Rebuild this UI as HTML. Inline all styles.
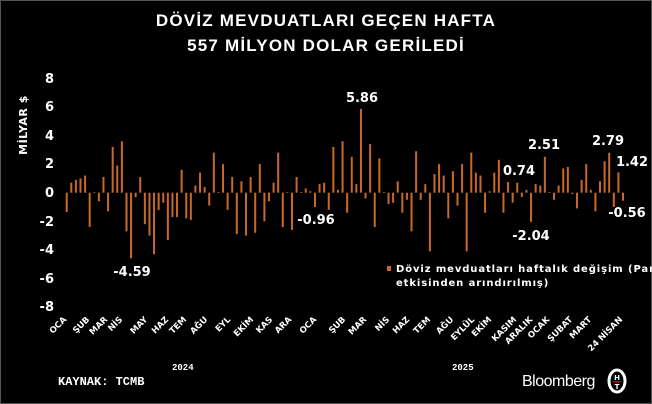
<!DOCTYPE html>
<html><head><meta charset="utf-8"><style>
html,body{margin:0;padding:0;background:#000;}
svg{display:block;font-family:"DejaVu Sans",sans-serif;}
</style></head><body>
<svg width="652" height="404" viewBox="0 0 652 404" xmlns="http://www.w3.org/2000/svg">
<rect width="652" height="404" fill="#000"/>
<rect x="0.5" y="0.5" width="651" height="403" fill="none" stroke="#555" stroke-width="1"/>
<g fill="#fff" font-weight="bold" font-size="17" text-anchor="middle" letter-spacing="1.2" font-family="Liberation Sans,sans-serif">
<text x="326" y="26">DÖVİZ MEVDUATLARI GEÇEN HAFTA</text>
<text x="326" y="51">557 MİLYON DOLAR GERİLEDİ</text>
</g>
<g fill="#fff" font-weight="bold" font-size="13" text-anchor="end">
<text x="54" y="83">8</text><text x="54" y="111">6</text><text x="54" y="140">4</text><text x="54" y="168">2</text><text x="54" y="197">0</text><text x="54" y="226">-2</text><text x="54" y="254">-4</text><text x="54" y="283">-6</text><text x="54" y="311">-8</text>
</g>
<text transform="translate(27,125) rotate(-90)" fill="#fff" font-weight="bold" font-size="11" text-anchor="middle" letter-spacing="0.5">MİLYAR $</text>
<g id="bars" fill="#c8692a"></g>
<g fill="#fff" font-weight="bold" font-size="13" text-anchor="middle">
<text x="132" y="276">-4.59</text>
<text x="362" y="102">5.86</text>
<text x="316" y="224">-0.96</text>
<text x="544" y="149">2.51</text>
<text x="519" y="175">0.74</text>
<text x="531" y="240">-2.04</text>
<text x="608" y="145">2.79</text>
<text x="632" y="166">1.42</text>
<text x="627" y="217">-0.56</text>
</g>
<rect x="387" y="266" width="4" height="5" fill="#c8692a"/>
<g fill="#fff" font-weight="bold" font-size="10" letter-spacing="0.9">
<text x="396" y="272">Döviz mevduatları haftalık değişim (Parite</text>
<text x="396" y="286">etkisinden arındırılmış)</text>
</g>
<g id="xl" fill="#fff" font-weight="bold" font-size="8.5" text-anchor="end"></g>
<g fill="#fff" font-size="9" font-weight="bold" font-family="Liberation Mono,monospace">
<text x="172" y="370">2024</text><text x="452" y="370">2025</text>
</g>
<text x="58" y="385" fill="#fff" font-weight="bold" font-size="12" font-family="Liberation Mono,monospace">KAYNAK: TCMB</text>
<text x="522" y="386" fill="#fff" font-size="16" letter-spacing="-0.5" font-family="Liberation Sans,sans-serif">Bloomberg</text>
<ellipse cx="617" cy="381" rx="8" ry="11" fill="none" stroke="#fff" stroke-width="3"/>
<text x="617" y="380" fill="#fff" font-size="7" font-weight="bold" text-anchor="middle">H</text>
<rect x="613" y="381" width="8" height="1.5" fill="#c00"/>
<text x="617" y="389" fill="#fff" font-size="7" font-weight="bold" text-anchor="middle">T</text>
</svg>
<script>
var v=[-1.35,0.7,0.9,1.0,1.2,-2.4,0.05,-0.6,1.1,-1.3,3.2,1.9,3.6,-2.7,-4.59,-0.3,1.1,-2.2,-3.0,-4.3,-1.2,-0.7,-3.3,-1.7,-1.7,1.6,-1.8,-1.9,0.5,1.4,0.4,-0.9,2.8,0.05,2.0,-1.2,1.1,-2.9,0.8,-3.0,1.1,-2.8,2.0,-2.0,-0.6,0.7,2.8,-2.4,0.05,-2.6,1.1,0.05,0.3,0.1,-1.0,0.6,0.7,-1.2,
3.2,0.2,3.6,-1.4,2.5,0.6,5.86,-0.4,3.4,-2.4,2.4,0.05,-0.8,-0.7,0.8,-1.4,-0.5,-2.7,2.9,-0.5,0.6,-4.1,1.3,2.0,1.2,-1.8,1.5,-0.9,2.0,-4.1,2.8,1.4,1.2,-1.4,0.1,1.4,2.3,-1.4,0.74,-0.7,0.7,-0.3,0.2,-2.04,0.6,0.5,2.51,0.05,-0.5,0.5,1.7,1.8,-0.1,-1.1,0.9,2.0,0.2,-1.3,0.8,2.2,2.79,-1.0,1.42,-0.56];
var g=document.getElementById('bars'),ns='http://www.w3.org/2000/svg',z=192.7,k=14.3,x0=66.7,dx=(623-66.7)/(v.length-1);
v.forEach(function(a,i){var r=document.createElementNS(ns,'rect');var h=Math.abs(a)*k;r.setAttribute('x',(x0+i*dx-1).toFixed(2));r.setAttribute('width','2');r.setAttribute('y',(a>=0?z-h:z).toFixed(2));r.setAttribute('height',Math.max(h,0.6).toFixed(2));g.appendChild(r);});
var L=[["OCA",67],["ŞUB",90],["MAR",108],["NİS",123],["MAY",148],["HAZ",169],["TEM",187],["AĞU",208],["EYL",231],["EKİM",254],["KAS",273],["ARA",292],["OCA",317],["ŞUB",346],["MAR",367],["NİS",390],["HAZ",410],["TEM",431],["AĞU",454],["EYLÜL",475],["EKİM",492],["KASIM",517],["ARALIK",533],["OCAK",550],["ŞUBAT",573],["MART",592],["24 NİSAN",623]];
var xl=document.getElementById('xl');
L.forEach(function(p){var t=document.createElementNS(ns,'text');t.setAttribute('transform','translate('+p[1]+',320) rotate(-45)');t.textContent=p[0];xl.appendChild(t);});
</script>
</body></html>
